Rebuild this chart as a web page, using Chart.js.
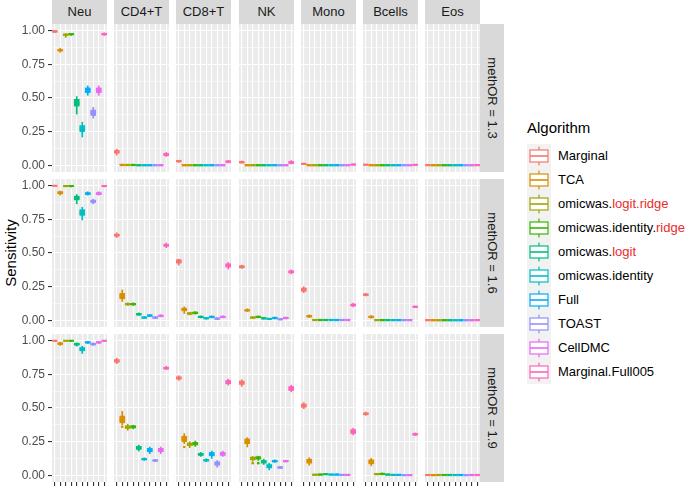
<!DOCTYPE html>
<html>
<head>
<meta charset="utf-8">
<script src="https://cdn.jsdelivr.net/npm/chart.js@4.4.1/dist/chart.umd.min.js"></script>
<style>
  body { margin: 0; background: #fff; font-family: "Liberation Sans", Arial, sans-serif; }
  #wrap { position: relative; width: 685px; height: 486px; overflow: hidden; }
  .panel { position: absolute; }
  .strip-top { position: absolute; top: 0; height: 24px; background: #D9D9D9; color: #1A1A1A;
    font-size: 13px; line-height: 24px; text-align: center; }
  .strip-right { position: absolute; left: 480px; width: 24px; background: #D9D9D9; color: #1A1A1A; font-size: 13px; }
  .strip-right span { position: absolute; left: 50%; top: 50%; white-space: nowrap;
    transform: translate(-50%, -50%) rotate(90deg); }
  #ytitle { position: absolute; left: 10px; top: 253px; font-size: 15px; color: #000; white-space: nowrap;
    transform: translate(-50%, -50%) rotate(-90deg); }
  #ltitle { position: absolute; left: 527px; top: 119px; font-size: 15px; color: #000; }
  .lkey { position: absolute; left: 527px; width: 24px; height: 24px; }
  .ltext { position: absolute; left: 558px; font-size: 13px; line-height: 24px; color: #000; white-space: nowrap; }
  .red { color: #EC2B2B; }
</style>
</head>
<body>
<div id="wrap">
  <div id="ytitle">Sensitivity</div>
  <div id="ltitle">Algorithm</div>
</div>
<script>
// categories
const algorithms = ["Marginal", "TCA", "omicwas.logit.ridge", "omicwas.identity.ridge", "omicwas.logit",
  "omicwas.identity", "Full", "TOAST", "CellDMC", "Marginal.Full005"];
const cellTypes = ["Neu", "CD4+T", "CD8+T", "NK", "Mono", "Bcells", "Eos"];
const methOR = ["1.3", "1.6", "1.9"];
const colors = ["#F8766D", "#D89000", "#A3A500", "#39B600", "#00BF7D", "#00BFC4", "#00B0F6", "#9590FF", "#E76BF3", "#FF62BC"];
// legend labels: [black part, red part]
const legendParts = [["Marginal", ""], ["TCA", ""], ["omicwas.", "logit.ridge"], ["omicwas.identity.", "ridge"],
  ["omicwas.", "logit"], ["omicwas.identity", ""], ["Full", ""], ["TOAST", ""], ["CellDMC", ""], ["Marginal.Full005", ""]];

// boxes per algorithm: [lower whisker, q1, median, q3, upper whisker]
// methOR = 1.3
const or13_Neu = [[0.985,0.99,0.995,1,1],[0.84,0.85,0.855,0.86,0.87],[0.95,0.965,0.97,0.975,0.98],[0.965,0.97,0.975,0.978,0.98],
  [0.38,0.44,0.46,0.49,0.51],[0.21,0.25,0.27,0.295,0.32],[0.52,0.54,0.56,0.575,0.59],[0.35,0.37,0.39,0.41,0.43],
  [0.52,0.54,0.56,0.575,0.59],[0.965,0.97,0.975,0.98,0.985]];
const or13_CD4T = [[0.075,0.09,0.1,0.11,0.12],[0,0,0.002,0.005,0.01],[0,0,0.002,0.004,0.008],[0,0,0.002,0.004,0.008],
  [0,0,0,0.002,0.005],[0,0,0,0.002,0.004],[0,0,0,0.002,0.005],[0,0,0,0.002,0.004],[0,0,0,0.002,0.005],[0.065,0.072,0.08,0.088,0.095]];
const or13_CD8T = [[0.022,0.027,0.03,0.034,0.038],[0,0,0,0.002,0.004],[0,0,0,0.002,0.004],[0,0,0,0.002,0.004],[0,0,0,0.002,0.004],
  [0,0,0,0.002,0.004],[0,0,0,0.002,0.004],[0,0,0,0.002,0.004],[0,0,0,0.002,0.004],[0.018,0.022,0.027,0.032,0.036]];
const or13_NK = [[0.015,0.019,0.023,0.027,0.032],[0,0,0,0.001,0.003],[0,0,0,0.001,0.003],[0,0,0,0.001,0.003],[0,0,0,0.001,0.003],
  [0,0,0,0.001,0.003],[0,0,0,0.001,0.003],[0,0,0,0.001,0.003],[0,0,0,0.001,0.003],[0.01,0.015,0.02,0.028,0.035]];
const or13_Mono = [[0.005,0.008,0.01,0.013,0.016],[0,0,0,0.001,0.002],[0,0,0,0.001,0.002],[0,0,0,0.001,0.002],[0,0,0,0.001,0.002],
  [0,0,0,0.001,0.002],[0,0,0,0.001,0.002],[0,0,0,0.001,0.002],[0,0,0,0.001,0.002],[0,0.002,0.005,0.008,0.01]];
const or13_Bcells = [[0,0.002,0.004,0.006,0.008],[0,0,0,0.001,0.002],[0,0,0,0.001,0.002],[0,0,0,0.001,0.002],[0,0,0,0.001,0.002],
  [0,0,0,0.001,0.002],[0,0,0,0.001,0.002],[0,0,0,0.001,0.002],[0,0,0,0.001,0.002],[0,0.001,0.003,0.005,0.007]];
const or13_Eos = [[0,0,0.001,0.002,0.003],[0,0,0,0.001,0.002],[0,0,0,0.001,0.002],[0,0,0,0.001,0.002],[0,0,0,0.001,0.002],
  [0,0,0,0.001,0.002],[0,0,0,0.001,0.002],[0,0,0,0.001,0.002],[0,0,0,0.001,0.002],[0,0,0.001,0.002,0.003]];
// methOR = 1.6
const or16_Neu = [[0.995,0.998,1,1,1],[0.93,0.94,0.948,0.955,0.96],[0.99,0.995,0.998,1,1],[0.99,0.995,0.998,1,1],
  [0.865,0.895,0.91,0.922,0.935],[0.745,0.78,0.8,0.822,0.84],[0.93,0.935,0.942,0.948,0.955],[0.865,0.875,0.885,0.893,0.9],
  [0.93,0.935,0.942,0.948,0.955],[0.99,0.995,0.998,1,1]];
const or16_CD4T = [[0.615,0.625,0.633,0.64,0.65],[0.14,0.16,0.18,0.2,0.225],[0.11,0.115,0.12,0.125,0.13],[0.11,0.115,0.12,0.125,0.13],
  [0.035,0.04,0.045,0.05,0.055],[0.012,0.016,0.02,0.024,0.028],[0.027,0.031,0.035,0.039,0.043],[0.012,0.016,0.02,0.024,0.028],
  [0.025,0.029,0.033,0.037,0.041],[0.54,0.55,0.558,0.565,0.575]];
const or16_CD8T = [[0.41,0.425,0.44,0.45,0.455],[0.05,0.07,0.08,0.09,0.1],[0.04,0.045,0.05,0.056,0.06],[0.045,0.05,0.055,0.06,0.065],
  [0.017,0.021,0.025,0.029,0.033],[0.008,0.012,0.015,0.018,0.022],[0.017,0.021,0.025,0.029,0.033],[0,0.008,0.012,0.016,0.02],
  [0.017,0.021,0.025,0.029,0.033],[0.38,0.395,0.407,0.42,0.43]];
const or16_NK = [[0.385,0.39,0.397,0.405,0.41],[0.065,0.07,0.074,0.078,0.085],[0.014,0.017,0.02,0.023,0.027],[0.018,0.021,0.025,0.029,0.032],
  [0.008,0.011,0.015,0.018,0.022],[0.004,0.007,0.01,0.013,0.016],[0.01,0.013,0.017,0.02,0.024],[0,0.004,0.007,0.01,0.013],
  [0.01,0.013,0.017,0.02,0.024],[0.345,0.352,0.36,0.368,0.375]];
const or16_Mono = [[0.205,0.215,0.23,0.24,0.25],[0.02,0.025,0.03,0.035,0.04],[0,0,0.002,0.004,0.006],[0,0,0.002,0.004,0.006],
  [0,0,0.002,0.004,0.006],[0,0,0.002,0.004,0.006],[0,0,0.002,0.004,0.006],[0,0,0.002,0.004,0.006],[0,0,0.002,0.004,0.006],
  [0.1,0.106,0.114,0.12,0.127]];
const or16_Bcells = [[0.18,0.185,0.19,0.195,0.2],[0.015,0.02,0.025,0.03,0.035],[0,0,0.001,0.003,0.005],[0,0,0.001,0.003,0.005],
  [0,0,0.001,0.003,0.005],[0,0,0.001,0.003,0.005],[0,0,0.001,0.003,0.005],[0,0,0.001,0.003,0.005],[0,0,0.001,0.003,0.005],
  [0.095,0.098,0.1,0.103,0.106]];
const or16_Eos = [[0,0,0.001,0.002,0.003],[0,0,0,0.001,0.002],[0,0,0,0.001,0.002],[0,0,0,0.001,0.002],[0,0,0,0.001,0.002],
  [0,0,0,0.001,0.002],[0,0,0,0.001,0.002],[0,0,0,0.001,0.002],[0,0,0,0.001,0.002],[0,0,0.001,0.002,0.003]];
// methOR = 1.9
const or19_Neu = [[0.995,0.998,1,1,1],[0.965,0.973,0.978,0.983,0.99],[0.995,0.998,1,1,1],[0.995,0.998,1,1,1],
  [0.96,0.968,0.975,0.98,0.985],[0.905,0.925,0.937,0.95,0.96],[0.98,0.984,0.988,0.992,0.995],[0.965,0.97,0.975,0.98,0.985],
  [0.98,0.984,0.988,0.992,0.995],[0.995,0.998,1,1,1]];
const or19_CD4T = [[0.83,0.84,0.85,0.86,0.87],[0.375,0.39,0.415,0.44,0.475],[0.335,0.348,0.357,0.368,0.38],[0.345,0.352,0.36,0.368,0.372],
  [0.18,0.192,0.205,0.215,0.225],[0.11,0.115,0.12,0.125,0.13],[0.16,0.175,0.187,0.2,0.21],[0.102,0.106,0.11,0.114,0.118],
  [0.16,0.175,0.187,0.2,0.21],[0.785,0.79,0.797,0.803,0.81]];
const or19_CD8T = [[0.705,0.715,0.723,0.732,0.74],[0.235,0.25,0.27,0.29,0.31],[0.205,0.22,0.23,0.24,0.25],[0.215,0.225,0.237,0.245,0.255],
  [0.14,0.148,0.155,0.163,0.17],[0.1,0.106,0.112,0.118,0.123],[0.125,0.145,0.157,0.17,0.18],[0.06,0.075,0.087,0.1,0.11],
  [0.14,0.148,0.157,0.17,0.18],[0.67,0.68,0.69,0.705,0.715]];
const or19_NK = [[0.66,0.675,0.687,0.7,0.71],[0.21,0.235,0.25,0.27,0.28],[0.105,0.115,0.125,0.135,0.14],[0.11,0.12,0.13,0.138,0.142],
  [0.08,0.09,0.1,0.11,0.12],[0.04,0.055,0.068,0.08,0.09],[0.095,0.1,0.105,0.11,0.115],[0.05,0.054,0.058,0.062,0.066],
  [0.098,0.102,0.105,0.108,0.112],[0.62,0.63,0.643,0.66,0.67]];
const or19_Mono = [[0.495,0.505,0.517,0.53,0.54],[0.075,0.09,0.105,0.12,0.13],[0,0.002,0.004,0.006,0.009],[0,0.002,0.005,0.008,0.011],
  [0,0.004,0.008,0.011,0.014],[0,0.002,0.005,0.008,0.01],[0,0.002,0.005,0.008,0.01],[0,0.001,0.003,0.005,0.007],
  [0,0.001,0.003,0.005,0.007],[0.3,0.31,0.325,0.34,0.35]];
const or19_Bcells = [[0.445,0.45,0.457,0.463,0.47],[0.07,0.085,0.1,0.115,0.125],[0,0.005,0.008,0.012,0.015],[0.002,0.007,0.01,0.014,0.017],
  [0,0.002,0.005,0.008,0.01],[0,0.001,0.003,0.005,0.007],[0,0.001,0.003,0.005,0.007],[0,0,0.001,0.003,0.005],
  [0,0,0.001,0.003,0.005],[0.295,0.3,0.305,0.31,0.315]];
const or19_Eos = [[0,0,0.002,0.004,0.006],[0,0,0.001,0.003,0.005],[0,0,0.002,0.004,0.006],[0,0,0.002,0.004,0.006],[0,0,0.002,0.004,0.006],
  [0,0,0.002,0.004,0.006],[0,0,0.002,0.004,0.006],[0,0,0.001,0.003,0.005],[0,0,0.002,0.004,0.006],[0,0,0.002,0.004,0.006]];

// outlier points: [row, cell type, algorithm, value]
const outliers = [[2, "CD4+T", "TCA", 0.36], [2, "CD8+T", "TCA", 0.21], [2, "NK", "omicwas.logit.ridge", 0.09],
  [2, "NK", "omicwas.identity.ridge", 0.09]];

const boxes = [
  [or13_Neu, or13_CD4T, or13_CD8T, or13_NK, or13_Mono, or13_Bcells, or13_Eos],
  [or16_Neu, or16_CD4T, or16_CD8T, or16_NK, or16_Mono, or16_Bcells, or16_Eos],
  [or19_Neu, or19_CD4T, or19_CD8T, or19_NK, or19_Mono, or19_Bcells, or19_Eos]
];

Chart.defaults.font.family = "'Liberation Sans', Arial, sans-serif";

// layout of the panels
const colLeft = [52, 114, 176, 239, 301, 363, 425];
const rowTop = [24, 179, 334];
const PW = 55, PH = 148;
const wrap = document.getElementById("wrap");

const panelBg = {
  id: "panelBg",
  beforeDraw(chart) {
    const a = chart.chartArea, ctx = chart.ctx;
    ctx.save();
    ctx.fillStyle = "#EBEBEB";
    ctx.fillRect(a.left, a.top, a.right - a.left, a.bottom - a.top);
    ctx.restore();
  }
};

function isMajor(v) {
  return Math.abs(v * 4 - Math.round(v * 4)) < 1e-6;
}

// strips
for (var c = 0; c < cellTypes.length; c++) {
  var s = document.createElement("div");
  s.className = "strip-top";
  s.style.left = colLeft[c] + "px";
  s.style.width = PW + "px";
  s.textContent = cellTypes[c];
  wrap.appendChild(s);
}
for (var r = 0; r < methOR.length; r++) {
  var s = document.createElement("div");
  s.className = "strip-right";
  s.style.top = rowTop[r] + "px";
  s.style.height = PH + "px";
  var sp = document.createElement("span");
  sp.textContent = "methOR = " + methOR[r];
  s.appendChild(sp);
  wrap.appendChild(s);
}

function makePanel(r, c) {
  var box = boxes[r][c];
  var first = c === 0, bottom = r === methOR.length - 1;
  var div = document.createElement("div");
  div.className = "panel";
  div.style.left = (first ? 0 : colLeft[c]) + "px";
  div.style.top = rowTop[r] + "px";
  div.style.width = (first ? colLeft[0] + PW : PW) + "px";
  div.style.height = (bottom ? PH + 4 : PH) + "px";
  var canvas = document.createElement("canvas");
  div.appendChild(canvas);
  wrap.appendChild(div);

  var mine = outliers.filter(function (o) { return o[0] === r && o[1] === cellTypes[c]; });
  var outl = mine.map(function (o) { return { x: o[2], y: o[3] }; });
  var outlColors = mine.map(function (o) { return colors[algorithms.indexOf(o[2])]; });

  new Chart(canvas, {
    type: "bar",
    data: {
      labels: algorithms,
      datasets: [
        {
          type: "line", data: box.map(function (b) { return b[2]; }), showLine: false,
          pointStyle: "line", pointRadius: 2.6, pointBorderWidth: 2.2, pointBorderColor: colors, order: 0
        },
        {
          type: "line", data: outl, showLine: false, pointStyle: "circle", pointRadius: 1.3, pointBorderWidth: 0,
          pointBackgroundColor: outlColors, order: 1
        },
        { data: box.map(function (b) { return [b[1], b[3]]; }), backgroundColor: colors, barThickness: 5, grouped: false, order: 2 },
        { data: box.map(function (b) { return [b[0], b[4]]; }), backgroundColor: colors, barThickness: 1, grouped: false, order: 3 }
      ]
    },
    options: {
      responsive: true,
      maintainAspectRatio: false,
      animation: false,
      events: [],
      layout: { padding: 0, autoPadding: false },
      plugins: { legend: { display: false }, tooltip: { enabled: false } },
      scales: {
        x: {
          offset: true,
          grid: { offset: false, color: "#FFFFFF", lineWidth: 1.1, drawTicks: bottom, tickLength: 4, tickColor: "#333333", tickWidth: 1.1 },
          border: { display: false },
          ticks: { display: false },
          afterFit: function (s) {
            s.height = bottom ? 4 : 0;
            s.paddingLeft = 0; s.paddingRight = 0;
          }
        },
        y: {
          min: -0.05, max: 1.05,
          grid: {
            color: "#FFFFFF",
            lineWidth: function (ctx) { return ctx.tick && !isMajor(ctx.tick.value) ? 0.55 : 1.1; },
            drawTicks: first, tickLength: 4, tickWidth: 1.1,
            tickColor: function (ctx) { return ctx.tick && !isMajor(ctx.tick.value) ? "rgba(0,0,0,0)" : "#333333"; }
          },
          border: { display: false },
          ticks: {
            display: first, stepSize: 0.125, includeBounds: false, autoSkip: false, padding: 3,
            color: "#4D4D4D", font: { size: 12 },
            callback: function (v) { return isMajor(v) ? v.toFixed(2) : ""; }
          },
          afterFit: function (s) {
            s.width = first ? colLeft[0] : 0;
            s.paddingTop = 0; s.paddingBottom = 0;
          }
        }
      }
    },
    plugins: [panelBg]
  });
}

for (var r = 0; r < methOR.length; r++) {
  for (var c = 0; c < cellTypes.length; c++) {
    makePanel(r, c);
  }
}

// legend
for (var i = 0; i < algorithms.length; i++) {
  var keyTop = 144 + 24 * i;
  var key = document.createElement("div");
  key.className = "lkey";
  key.style.top = keyTop + "px";
  var col = colors[i];
  key.innerHTML = '<svg width="24" height="24"><rect x="0" y="0" width="24" height="24" fill="#F2F2F2"/>' +
    '<line x1="12" y1="2.4" x2="12" y2="6" stroke="' + col + '" stroke-width="1.2"/>' +
    '<line x1="12" y1="18" x2="12" y2="21.6" stroke="' + col + '" stroke-width="1.2"/>' +
    '<rect x="3" y="6" width="18" height="12" fill="#fff" stroke="' + col + '" stroke-width="1.2"/>' +
    '<line x1="3" y1="12" x2="21" y2="12" stroke="' + col + '" stroke-width="1.6"/></svg>';
  wrap.appendChild(key);
  var t = document.createElement("div");
  t.className = "ltext";
  t.style.top = keyTop + "px";
  t.innerHTML = legendParts[i][0] + (legendParts[i][1] ? '<span class="red">' + legendParts[i][1] + "</span>" : "");
  wrap.appendChild(t);
}
</script>
</body>
</html>
